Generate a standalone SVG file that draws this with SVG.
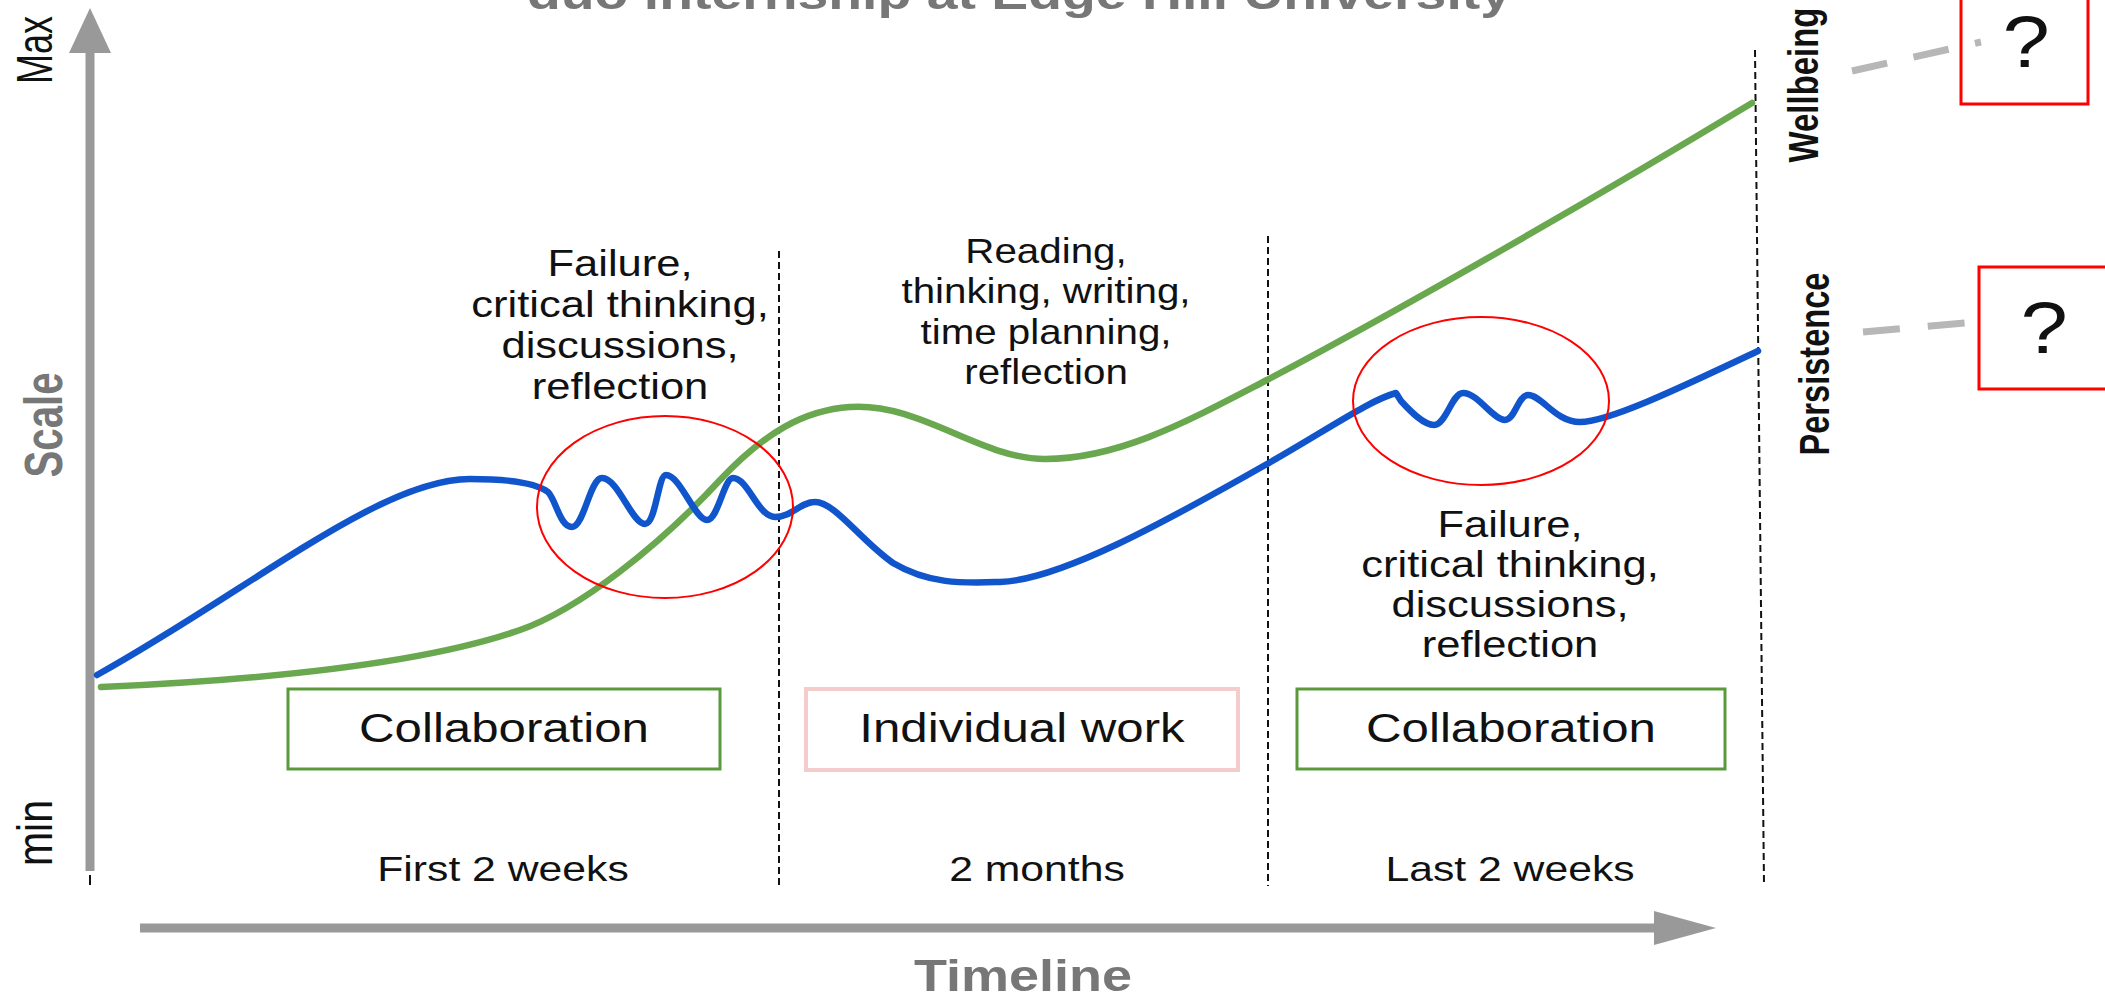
<svg xmlns="http://www.w3.org/2000/svg" width="2105" height="997" viewBox="0 0 2105 997">
<style>
  text { font-family: "Liberation Sans", Arial, sans-serif; }
  .ann { font-size: 36px; fill: #111; text-anchor: middle; }
  .box { font-size: 40px; fill: #111; text-anchor: middle; }
  .per { font-size: 35px; fill: #111; text-anchor: middle; }
  .axl { font-size: 40px; fill: #111; text-anchor: middle; }
  .gray { font-weight: bold; fill: #777; text-anchor: middle; }
  .vlab { font-size: 35px; font-weight: bold; fill: #111; text-anchor: middle; }
  .q { font-size: 72px; fill: #111; text-anchor: middle; }
  .div { stroke: #111; stroke-width: 2; stroke-dasharray: 7 4; fill: none; }
  .curve { fill: none; stroke-width: 6.5; stroke-linecap: round; stroke-linejoin: round; }
  .conn { stroke: #b7b7b7; stroke-width: 7; fill: none; }
  .ring { fill: none; stroke: #ff0000; stroke-width: 2; }
  .axis { stroke: #999; stroke-width: 9; fill: none; }
</style>
<rect x="0" y="0" width="2105" height="997" fill="#ffffff"/>

<g id="title">
  <text class="gray" font-size="45" x="1019" y="9" textLength="984" lengthAdjust="spacingAndGlyphs">duo internship at Edge Hill University</text>
</g>

<g id="axes">
  <line class="axis" x1="90" y1="50" x2="90" y2="871"/>
  <polygon points="90,8 111,53 69,53" fill="#999"/>
  <line x1="90" y1="875" x2="90" y2="885" stroke="#111" stroke-width="2"/>
  <line class="axis" x1="140" y1="928" x2="1660" y2="928"/>
  <polygon points="1716,928 1654,911 1654,945" fill="#999"/>
  <text class="axl" transform="translate(52,50) scale(1.23,1) rotate(-90)" textLength="68" lengthAdjust="spacingAndGlyphs">Max</text>
  <text class="gray" font-size="44" transform="translate(62,425) scale(1.23,1) rotate(-90)" textLength="105" lengthAdjust="spacingAndGlyphs">Scale</text>
  <text class="axl" transform="translate(52,833) scale(1.23,1) rotate(-90)" textLength="66" lengthAdjust="spacingAndGlyphs">min</text>
  <text class="gray" font-size="45" transform="translate(1023,991) scale(1.2,1)">Timeline</text>
</g>

<g id="dividers">
  <line class="div" x1="779" y1="251" x2="779" y2="889"/>
  <line class="div" x1="1268" y1="236" x2="1268" y2="886"/>
  <line class="div" x1="1755" y1="50" x2="1764" y2="884"/>
</g>

<g id="period-labels">
  <text class="per" transform="translate(503,881) scale(1.22,1)">First 2 weeks</text>
  <text class="per" transform="translate(1037,881) scale(1.22,1)">2 months</text>
  <text class="per" transform="translate(1510,881) scale(1.22,1)">Last 2 weeks</text>
</g>

<g id="wellbeing-curve">
  <path class="curve" stroke="#6aa84f" d="M101,687 C260,680 420,665 520,630 C580,609 660,545 720,480 C765,432 805,410 850,407 C920,402 980,459 1045,459 C1120,459 1190,420 1267,380 C1400,310 1600,195 1752,103"/>
</g>

<g id="persistence-curve">
  <path class="curve" stroke="#1155cc" d="M97,675 C250,590 380,479 470,479 C505,479 535,482 548,492 C556,500 560,527 572,527 C584,527 590,478 602,478 C618,478 632,524 645,524 C656,524 658,475 666,475 C680,475 695,520 707,520 C718,520 724,478 733,478 C748,478 758,517 775,517 C792,517 800,502 815,502 C835,502 860,540 893,563 C930,585 965,583 1000,582 C1060,580 1165,522 1267,464 C1330,428 1370,400 1396,393 L1401,401 C1412,413 1424,425 1434,425 C1446,425 1452,393 1463,393 C1478,393 1493,420 1505,420 C1515,420 1518,395 1528,395 C1542,395 1555,422 1580,422 C1610,422 1690,383 1758,351"/>
</g>

<g id="ring-1"><ellipse class="ring" cx="665" cy="507" rx="128" ry="91"/></g>
<g id="ring-2"><ellipse class="ring" cx="1481" cy="401" rx="128" ry="84"/></g>

<g id="note-1">
  <text class="ann" transform="translate(620,0) scale(1.21,1)"><tspan x="0" y="276">Failure,</tspan><tspan x="0" y="317">critical thinking,</tspan><tspan x="0" y="358">discussions,</tspan><tspan x="0" y="399">reflection</tspan></text>
</g>
<g id="note-2">
  <text class="ann" transform="translate(1046,0) scale(1.12,1)"><tspan x="0" y="263">Reading,</tspan><tspan x="0" y="303">thinking, writing,</tspan><tspan x="0" y="344">time planning,</tspan><tspan x="0" y="384">reflection</tspan></text>
</g>
<g id="note-3">
  <text class="ann" transform="translate(1510,0) scale(1.21,1)"><tspan x="0" y="537">Failure,</tspan><tspan x="0" y="577">critical thinking,</tspan><tspan x="0" y="617">discussions,</tspan><tspan x="0" y="657">reflection</tspan></text>
</g>

<g id="box-collaboration-1">
  <rect x="288" y="689" width="432" height="80" fill="#fff" stroke="#5a9a3c" stroke-width="3"/>
  <text class="box" transform="translate(504,742) scale(1.23,1)">Collaboration</text>
</g>
<g id="box-individual">
  <rect x="806" y="689" width="432" height="81" fill="#fff" stroke="#f4cccc" stroke-width="4"/>
  <text class="box" transform="translate(1022,742) scale(1.23,1)">Individual work</text>
</g>
<g id="box-collaboration-2">
  <rect x="1297" y="689" width="428" height="80" fill="#fff" stroke="#5a9a3c" stroke-width="3"/>
  <text class="box" transform="translate(1511,742) scale(1.23,1)">Collaboration</text>
</g>

<g id="label-wellbeing">
  <text class="vlab" transform="translate(1818,85) scale(1.23,1) rotate(-90)" textLength="155" lengthAdjust="spacingAndGlyphs">Wellbeing</text>
</g>
<g id="label-persistence">
  <text class="vlab" transform="translate(1829,364) scale(1.23,1) rotate(-90)" textLength="183" lengthAdjust="spacingAndGlyphs">Persistence</text>
</g>

<g id="connectors">
  <line class="conn" x1="1852" y1="71" x2="1981" y2="42" stroke-dasharray="36 27"/>
  <line class="conn" x1="1863" y1="332" x2="1965" y2="323" stroke-dasharray="37 28"/>
</g>

<g id="question-1">
  <rect x="1961" y="-5" width="127" height="109" fill="none" stroke="#ff0000" stroke-width="3"/>
  <text class="q" transform="translate(2026,67) scale(1.18,1)">?</text>
</g>
<g id="question-2">
  <rect x="1979" y="267" width="150" height="122" fill="none" stroke="#ff0000" stroke-width="3"/>
  <text class="q" transform="translate(2044,353) scale(1.18,1)">?</text>
</g>
</svg>
